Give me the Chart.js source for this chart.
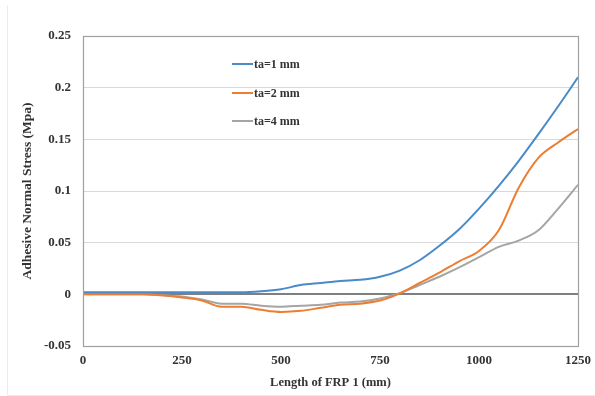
<!DOCTYPE html>
<html>
<head>
<meta charset="utf-8">
<script src="https://cdn.jsdelivr.net/npm/chart.js@4/dist/chart.umd.min.js"></script>
<style>
  html, body { margin: 0; padding: 0; background: white; }
  #wrap { width: 595px; height: 396px; position: relative; }
</style>
</head>
<body>
<div id="wrap"><canvas id="chart" width="595" height="396"></canvas></div>
<script>
// length along the FRP plate (mm)
const lengths = [0, 50, 100, 150, 200, 250, 300, 350, 400, 450, 500, 550, 600,
    650, 700, 750, 800, 850, 900, 950, 1000, 1050, 1100, 1150, 1200, 1250];

const ta1 = [0.002, 0.002, 0.002, 0.002, 0.002, 0.002, 0.002, 0.002, 0.002, 0.003, 0.005, 0.009, 0.011,
    0.013, 0.014, 0.017, 0.023, 0.033, 0.047, 0.063, 0.083, 0.105, 0.129, 0.155, 0.182, 0.21];
const ta2 = [0, 0, 0, 0, -0.001, -0.003, -0.006, -0.012, -0.012, -0.015, -0.017, -0.016, -0.013,
    -0.010, -0.009, -0.006, 0.001, 0.011, 0.021, 0.032, 0.042, 0.062, 0.103, 0.132, 0.147, 0.16];
const ta4 = [0, 0, 0, 0, -0.001, -0.002, -0.005, -0.009, -0.009, -0.011, -0.012, -0.011, -0.010,
    -0.008, -0.007, -0.004, 0.001, 0.009, 0.017, 0.026, 0.036, 0.046, 0.052, 0.062, 0.083, 0.106];

const seriesLabels = ['ta=1 mm', 'ta=2 mm', 'ta=4 mm'];
const seriesColors = ['#4a8ac8', '#ed7d31', '#a5a5a5'];

const font = "'Liberation Serif', 'Times New Roman', serif";
const textColor = '#333333';

const points = ys => ys.map((y, i) => ({ x: lengths[i], y }));

// faint frame of the original figure
const pageFrame = {
    id: 'page_frame',
    beforeDraw: (chart) => {
        const { ctx } = chart;
        ctx.save();
        ctx.strokeStyle = '#ececec';
        ctx.lineWidth = 1;
        ctx.beginPath();
        ctx.moveTo(7.5, 5);
        ctx.lineTo(7.5, 395.5);
        ctx.lineTo(595, 395.5);
        ctx.stroke();
        ctx.restore();
    }
};

// box around the plot area + legend drawn inside it
const plotBox = {
    id: 'plot_box',
    afterDraw: (chart) => {
        const { ctx, chartArea: a } = chart;
        ctx.save();
        ctx.strokeStyle = '#a0a0a0';
        ctx.lineWidth = 1.2;
        ctx.strokeRect(a.left + 0.5, a.top + 0.5, a.right - a.left, a.bottom - a.top);

        const w = a.right - a.left, h = a.bottom - a.top;
        const x0 = a.left + w * 0.301;
        ctx.font = `bold 12px ${font}`;
        ctx.textBaseline = 'middle';
        ctx.fillStyle = textColor;
        chart.data.datasets.forEach((ds, i) => {
            const y = Math.round(a.top + h * 0.091 + i * 28.5);
            ctx.strokeStyle = ds.borderColor;
            ctx.lineWidth = 2;
            ctx.beginPath();
            ctx.moveTo(x0, y);
            ctx.lineTo(x0 + 21, y);
            ctx.stroke();
            ctx.fillText(ds.label, x0 + 22, y + 1);
        });
        ctx.restore();
    }
};

new Chart(document.getElementById('chart').getContext('2d'), {
    type: 'line',
    data: {
        datasets: [ta1, ta2, ta4].map((ys, i) => ({
            label: seriesLabels[i],
            data: points(ys),
            borderColor: seriesColors[i],
            borderWidth: 2,
            pointRadius: 0,
            tension: 0.4,
            cubicInterpolationMode: 'monotone'
        }))
    },
    options: {
        responsive: false,
        animation: false,
        layout: {
            padding: { top: 36, right: 17, left: 8, bottom: 4 }
        },
        scales: {
            x: {
                type: 'linear',
                min: 0,
                max: 1250,
                border: { display: false },
                grid: { display: false, drawTicks: false },
                afterFit: scale => {
                    scale.height = 46;
                    scale.paddingLeft = 0;
                    scale.paddingRight = 0;
                },
                ticks: {
                    stepSize: 250,
                    padding: 7,
                    color: textColor,
                    font: { family: font, size: 13, weight: 'bold' },
                    callback: v => String(v)
                },
                title: {
                    display: true,
                    text: 'Length of FRP 1 (mm)',
                    color: textColor,
                    font: { family: font, size: 12.5, weight: 'bold' },
                    padding: { top: 2, bottom: 2 }
                }
            },
            y: {
                min: -0.05,
                max: 0.25,
                border: { display: false },
                grid: {
                    drawTicks: false,
                    color: ctx => ctx.tick && Math.abs(ctx.tick.value) < 1e-9 ? '#7f7f7f' : '#d9d9d9',
                    lineWidth: ctx => ctx.tick && Math.abs(ctx.tick.value) < 1e-9 ? 2 : 1
                },
                afterFit: scale => { scale.width = 75; },
                ticks: {
                    stepSize: 0.05,
                    padding: 12,
                    color: textColor,
                    font: { family: font, size: 13, weight: 'bold' },
                    callback: v => String(Number(v.toFixed(2)))
                },
                title: {
                    display: true,
                    text: 'Adhesive Normal Stress (Mpa)',
                    color: textColor,
                    font: { family: font, size: 13.5, weight: 'bold' },
                    padding: { top: 11, bottom: 0 }
                }
            }
        },
        plugins: {
            legend: { display: false },
            tooltip: { enabled: false }
        }
    },
    plugins: [pageFrame, plotBox]
});
</script>
</body>
</html>
